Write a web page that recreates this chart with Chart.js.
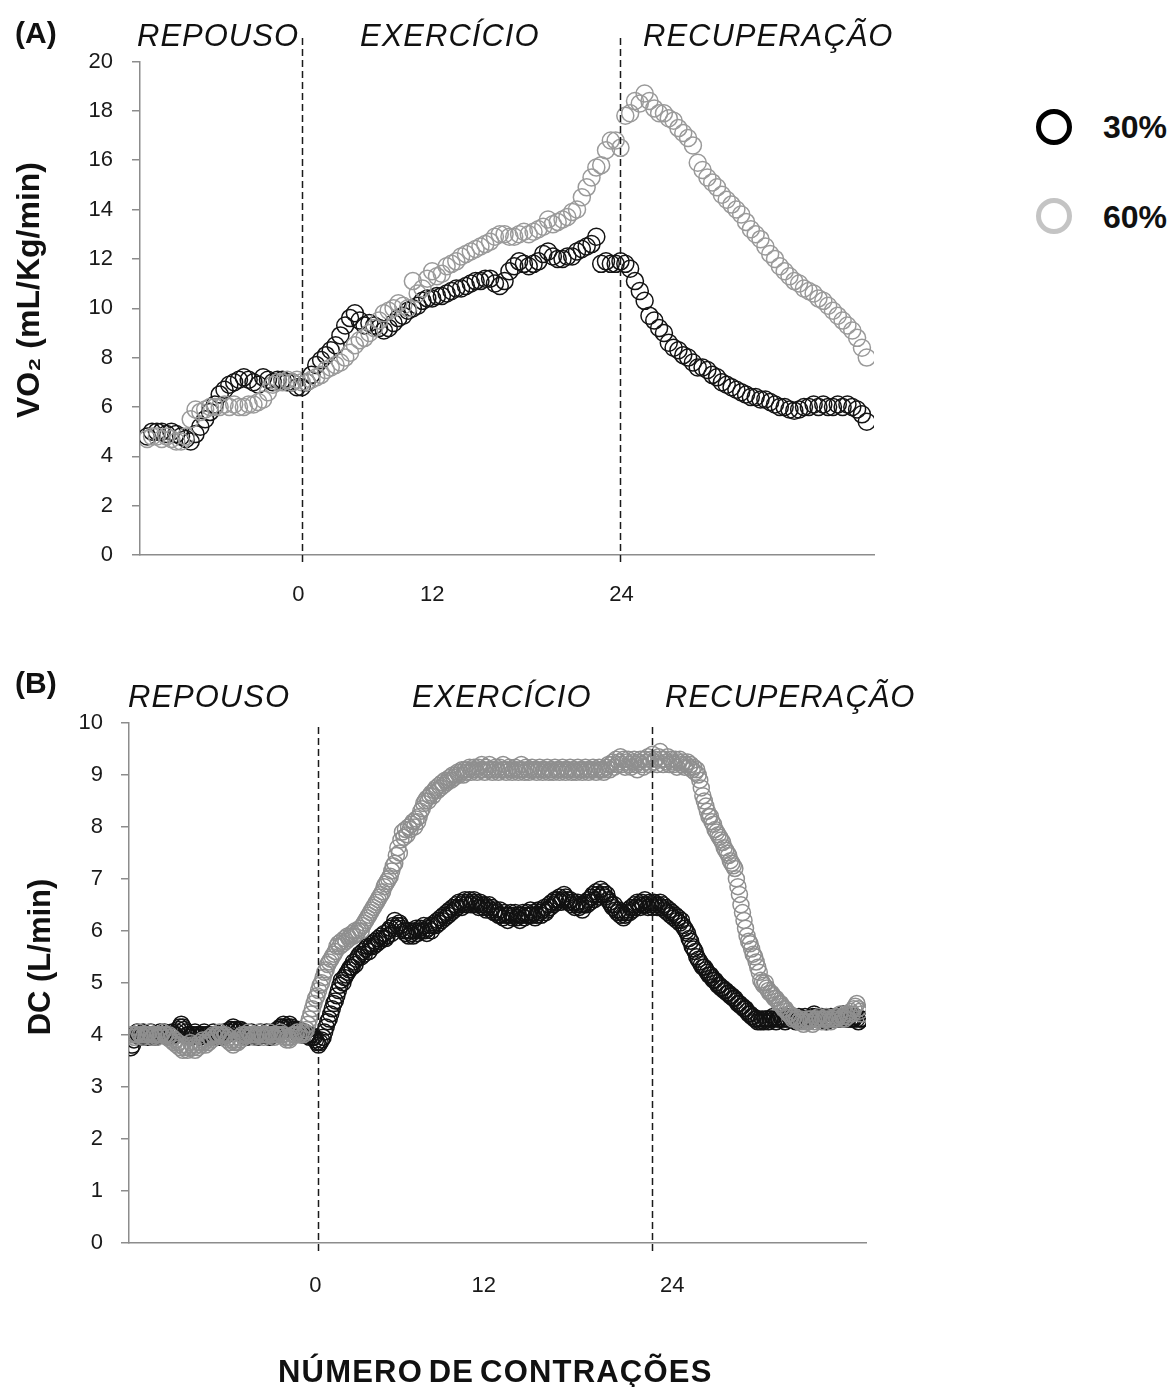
<!DOCTYPE html>
<html lang="pt">
<head>
<meta charset="utf-8">
<title>VO2 e DC</title>
<script src="https://cdn.jsdelivr.net/npm/chart.js@4.4.1/dist/chart.umd.min.js"></script>
<style>
  html, body { margin:0; padding:0; background:#fff; }
  body { position:relative; width:1170px; height:1387px; overflow:hidden; font-family:'Liberation Sans', Arial, Helvetica, sans-serif; color:#111; }
  .box { position:absolute; left:0; width:900px; }
  #boxA { top:0; height:620px; }
  #boxB { top:650px; height:737px; }
  .t { position:absolute; white-space:nowrap; line-height:1; }
  .phase { font-style:italic; font-size:31px; letter-spacing:1px; }
  .panel { font-weight:bold; font-size:30px; }
  .legtxt { font-weight:bold; font-size:32px; }
  .ring { position:absolute; width:36px; height:36px; border-radius:50%; box-sizing:border-box; border:5px solid #000; }
  .xtitle { font-weight:bold; font-size:31px; letter-spacing:1.2px; word-spacing:-4px; }
</style>
</head>
<body>
<div id="boxA" class="box"><canvas id="chartA"></canvas></div>
<div id="boxB" class="box"><canvas id="chartB"></canvas></div>

<div class="t panel" style="left:15px;top:18px">(A)</div>
<div class="t phase" style="left:137px;top:20px">REPOUSO</div>
<div class="t phase" style="left:360px;top:20px">EXERCÍCIO</div>
<div class="t phase" style="left:643px;top:20px">RECUPERAÇÃO</div>

<div class="t panel" style="left:15px;top:668px">(B)</div>
<div class="t phase" style="left:128px;top:681px">REPOUSO</div>
<div class="t phase" style="left:412px;top:681px">EXERCÍCIO</div>
<div class="t phase" style="left:665px;top:681px">RECUPERAÇÃO</div>

<div class="ring" style="left:1036px;top:109px;border-color:#000"></div>
<div class="t legtxt" style="left:1103px;top:111px">30%</div>
<div class="ring" style="left:1036px;top:198px;border-color:#c4c4c4"></div>
<div class="t legtxt" style="left:1103px;top:201px">60%</div>

<div class="t xtitle" style="left:278px;top:1356px">NÚMERO DE CONTRAÇÕES</div>

<script>
// ---------------- data ----------------
const seriesNames = ['30%', '60%'];
const xTickLabels = ['0', '12', '24'];

// Panel A: VO2 (mL/Kg/min), one value per sample
const xTickPosA = [31.3, 59, 98.2];
const phaseLinesA = [32.1, 98];
const vo2_30 = [
  4.8,5.0,5.0,5.0,4.9,5.0,4.9,4.8,4.7,4.6,
  4.9,5.2,5.5,5.8,6.1,6.5,6.7,6.9,7.0,7.1,
  7.2,7.1,7.0,6.9,7.2,7.1,7.0,7.1,7.1,7.0,
  7.0,6.8,6.8,7.0,7.3,7.7,7.9,8.1,8.3,8.5,
  8.9,9.3,9.6,9.8,9.5,9.3,9.4,9.3,9.2,9.1,
  9.2,9.4,9.6,9.7,9.9,10.0,10.1,10.3,10.4,10.4,
  10.5,10.5,10.6,10.7,10.8,10.8,10.9,11.0,11.1,11.1,
  11.2,11.2,11.0,10.9,11.1,11.5,11.7,11.9,11.8,11.7,
  11.8,11.9,12.2,12.3,12.1,12.0,12.0,12.1,12.1,12.3,
  12.4,12.5,12.6,12.9,11.8,11.9,11.8,11.8,11.9,11.8,
  11.6,11.1,10.7,10.3,9.7,9.5,9.2,9.0,8.6,8.4,
  8.3,8.1,8.0,7.8,7.6,7.6,7.5,7.3,7.2,7.0,
  6.9,6.8,6.7,6.6,6.5,6.4,6.4,6.3,6.3,6.2,
  6.1,6.0,6.0,5.9,5.85,5.9,6.0,6.0,6.1,6.0,
  6.1,6.0,6.0,6.1,6.0,6.1,6.0,5.9,5.7,5.4
];
const vo2_60 = [
  4.7,4.8,4.8,4.7,4.8,4.7,4.6,4.6,4.8,5.5,
  5.9,5.8,5.9,6.0,6.0,6.0,6.1,6.0,6.1,6.0,
  6.0,6.1,6.1,6.2,6.3,6.6,6.9,7.0,7.0,7.1,
  7.0,7.1,7.0,7.0,7.1,7.2,7.3,7.5,7.6,7.7,
  7.8,8.0,8.2,8.5,8.7,8.8,9.0,9.2,9.5,9.8,
  9.9,10.0,10.2,10.1,10.0,11.1,10.6,10.8,11.2,11.5,
  11.3,11.4,11.7,11.8,11.9,12.1,12.2,12.3,12.4,12.5,
  12.6,12.7,12.9,13.0,13.0,12.9,12.9,13.0,13.1,13.0,
  13.1,13.2,13.3,13.6,13.4,13.5,13.6,13.7,13.9,14.0,
  14.5,14.9,15.3,15.7,15.8,16.4,16.8,16.8,16.5,17.8,
  17.9,18.4,18.3,18.7,18.4,18.1,17.9,17.9,17.7,17.6,
  17.3,17.1,16.9,16.6,15.9,15.6,15.3,15.1,14.9,14.6,
  14.4,14.2,14.0,13.8,13.5,13.2,13.0,12.8,12.5,12.2,
  12.0,11.7,11.5,11.3,11.1,11.0,10.8,10.7,10.6,10.4,
  10.3,10.1,9.9,9.7,9.5,9.3,9.1,8.8,8.4,8.0
];

// Panel B: DC (L/min), one value per sample
const xTickPosB = [120.9, 231.3, 355.0];
const phaseLinesB = [122.6, 341.6];
const dc_30 = [
  3.75,3.8,3.9,4.0,4.05,4.0,3.95,4.0,4.05,4.0, 4.0,3.95,4.0,4.05,4.0,4.0,3.95,4.0,4.0,4.05,
  4.0,4.0,4.05,4.0,3.95,4.0,4.0,4.05,4.0,4.0, 4.05,4.1,4.15,4.2,4.15,4.1,4.05,4.0,4.0,3.95,
  4.0,4.0,4.05,4.0,4.0,3.95,4.0,4.0,4.05,4.0, 4.0,4.0,3.95,4.0,4.05,4.0,4.0,4.0,3.95,4.0,
  4.0,4.05,4.0,4.0,4.05,4.1,4.1,4.15,4.1,4.1, 4.05,4.1,4.1,4.05,4.0,4.0,3.95,4.0,4.0,4.05,
  4.0,4.0,4.0,3.95,4.0,4.05,4.0,4.0,4.0,4.05, 4.0,3.95,4.0,4.0,4.05,4.05,4.1,4.1,4.15,4.15,
  4.2,4.15,4.1,4.15,4.2,4.15,4.1,4.1,4.05,4.1, 4.1,4.05,4.0,4.0,4.05,4.0,4.0,3.95,4.0,3.95,
  3.95,3.9,3.85,3.8,3.85,3.9,3.95,4.05,4.15,4.25, 4.3,4.4,4.5,4.6,4.65,4.75,4.85,4.95,5.05,5.0,
  5.1,5.15,5.2,5.25,5.3,5.3,5.4,5.35,5.45,5.5, 5.55,5.5,5.6,5.55,5.65,5.7,5.6,5.7,5.75,5.7,
  5.8,5.75,5.85,5.8,5.9,5.85,5.95,5.85,5.9,6.0, 6.05,5.95,6.1,6.2,6.05,6.1,6.15,6.1,6.05,6.0,
  5.95,6.0,5.9,6.0,5.95,5.9,6.0,6.05,5.95,6.0, 6.05,6.0,6.1,6.0,5.95,6.05,6.1,6.0,6.1,6.15,
  6.1,6.2,6.15,6.25,6.2,6.3,6.25,6.35,6.3,6.4, 6.35,6.45,6.4,6.5,6.45,6.55,6.5,6.45,6.55,6.6,
  6.5,6.55,6.6,6.5,6.55,6.6,6.55,6.5,6.45,6.55, 6.5,6.45,6.5,6.4,6.45,6.5,6.4,6.45,6.35,6.4,
  6.35,6.3,6.4,6.3,6.25,6.35,6.3,6.2,6.3,6.35, 6.25,6.3,6.35,6.25,6.3,6.2,6.3,6.35,6.25,6.3,
  6.35,6.3,6.4,6.3,6.35,6.25,6.3,6.4,6.35,6.3, 6.4,6.45,6.35,6.4,6.5,6.45,6.55,6.5,6.6,6.55,
  6.6,6.65,6.55,6.6,6.7,6.65,6.6,6.55,6.6,6.5, 6.55,6.45,6.5,6.55,6.45,6.5,6.4,6.5,6.55,6.5,
  6.6,6.55,6.65,6.7,6.6,6.75,6.7,6.65,6.8,6.7, 6.75,6.65,6.7,6.6,6.55,6.5,6.45,6.5,6.4,6.35,
  6.4,6.3,6.35,6.25,6.3,6.35,6.4,6.35,6.45,6.4, 6.5,6.45,6.55,6.5,6.45,6.55,6.5,6.6,6.5,6.45,
  6.55,6.5,6.45,6.55,6.5,6.45,6.5,6.55,6.45,6.5, 6.4,6.45,6.35,6.4,6.3,6.35,6.25,6.3,6.2,6.25,
  6.15,6.2,6.1,6.05,6.0,5.95,5.85,5.8,5.7,5.65, 5.6,5.5,5.45,5.4,5.35,5.3,5.3,5.25,5.2,5.15,
  5.15,5.1,5.05,5.05,5.0,4.95,4.95,4.9,4.9,4.85, 4.85,4.8,4.8,4.75,4.75,4.7,4.7,4.65,4.6,4.6,
  4.55,4.55,4.5,4.5,4.45,4.4,4.4,4.35,4.35,4.3, 4.3,4.25,4.3,4.25,4.3,4.25,4.3,4.3,4.25,4.3,
  4.3,4.35,4.3,4.25,4.3,4.3,4.35,4.3,4.3,4.25, 4.3,4.3,4.35,4.3,4.3,4.3,4.25,4.3,4.35,4.3,
  4.3,4.3,4.35,4.3,4.25,4.3,4.3,4.35,4.4,4.35, 4.3,4.3,4.3,4.35,4.3,4.3,4.25,4.3,4.3,4.35,
  4.3,4.3,4.35,4.3,4.3,4.3,4.35,4.4,4.35,4.3, 4.3,4.35,4.3,4.3,4.3,4.35,4.3,4.25,4.3,4.3
];
const dc_60 = [
  4.0,4.0,3.95,4.0,4.0,4.05,4.0,4.0,3.95,4.0, 4.0,4.0,4.05,4.0,3.95,4.0,4.0,3.95,4.0,4.0,
  4.0,4.05,4.0,4.0,3.95,4.0,3.9,3.95,3.85,3.9, 3.8,3.85,3.75,3.8,3.7,3.75,3.8,3.7,3.75,3.85,
  3.8,3.75,3.7,3.8,3.75,3.85,3.8,3.9,3.85,3.8, 3.9,3.85,3.95,3.9,4.0,3.95,4.0,4.0,4.05,4.0,
  4.0,3.95,4.0,3.9,3.95,3.85,3.9,3.8,3.85,3.9, 3.85,3.95,3.9,4.0,3.95,4.0,4.0,4.05,4.0,4.0,
  4.0,3.95,4.0,4.0,4.05,4.0,4.0,3.95,4.0,4.0, 4.0,4.05,4.0,4.0,3.95,4.0,4.0,4.0,4.05,4.0,
  4.0,3.95,3.9,3.95,3.9,3.95,4.0,4.0,4.0,4.05, 4.0,4.0,4.05,4.0,4.05,4.1,4.2,4.3,4.4,4.5,
  4.6,4.7,4.75,4.85,4.95,5.0,5.1,5.2,5.25,5.35, 5.4,5.45,5.5,5.55,5.6,5.7,5.75,5.7,5.8,5.75,
  5.85,5.8,5.9,5.85,5.9,5.95,5.9,6.0,5.95,6.0, 6.05,6.0,6.1,6.15,6.2,6.25,6.3,6.35,6.4,6.45,
  6.5,6.55,6.6,6.65,6.7,6.75,6.85,6.9,6.95,7.0, 7.05,7.15,7.25,7.3,7.45,7.6,7.5,7.75,7.9,7.8,
  7.95,7.85,8.0,7.95,8.05,8.1,8.0,8.15,8.1,8.2, 8.3,8.35,8.45,8.5,8.55,8.5,8.6,8.65,8.6,8.7,
  8.75,8.7,8.8,8.75,8.85,8.8,8.9,8.85,8.9,8.95, 8.9,9.0,8.95,9.0,9.05,9.0,9.05,9.1,9.0,9.1,
  9.05,9.1,9.15,9.05,9.1,9.15,9.1,9.05,9.15,9.1, 9.2,9.1,9.05,9.15,9.1,9.2,9.1,9.05,9.1,9.15,
  9.1,9.05,9.15,9.1,9.2,9.1,9.05,9.1,9.15,9.1, 9.05,9.1,9.15,9.1,9.05,9.1,9.2,9.1,9.05,9.15,
  9.1,9.05,9.1,9.15,9.1,9.1,9.05,9.1,9.15,9.1, 9.05,9.1,9.1,9.15,9.05,9.1,9.1,9.05,9.15,9.1,
  9.1,9.05,9.1,9.15,9.1,9.05,9.1,9.1,9.15,9.05, 9.1,9.1,9.05,9.15,9.1,9.1,9.05,9.1,9.15,9.1,
  9.05,9.1,9.1,9.15,9.1,9.05,9.1,9.15,9.1,9.1, 9.05,9.1,9.15,9.2,9.1,9.2,9.25,9.15,9.3,9.2,
  9.25,9.35,9.2,9.3,9.15,9.25,9.3,9.2,9.15,9.25, 9.3,9.2,9.1,9.25,9.3,9.2,9.15,9.3,9.25,9.35,
  9.2,9.3,9.4,9.25,9.3,9.2,9.35,9.45,9.3,9.2, 9.3,9.25,9.35,9.2,9.3,9.25,9.2,9.3,9.15,9.25,
  9.3,9.2,9.25,9.15,9.2,9.25,9.15,9.2,9.1,9.15, 9.05,9.1,9.0,8.9,8.75,8.6,8.5,8.4,8.3,8.2,
  8.2,8.1,8.05,7.95,7.9,7.85,7.8,7.75,7.7,7.6, 7.55,7.5,7.45,7.35,7.3,7.25,7.2,7.0,6.85,6.7,
  6.5,6.35,6.2,6.05,5.9,5.8,5.75,5.65,5.55,5.5, 5.4,5.3,5.2,5.05,5.0,4.95,5.0,4.9,4.85,4.8,
  4.8,4.75,4.7,4.7,4.65,4.6,4.6,4.55,4.5,4.5, 4.45,4.4,4.4,4.35,4.3,4.35,4.3,4.3,4.25,4.3,
  4.25,4.2,4.25,4.3,4.25,4.3,4.3,4.2,4.25,4.3, 4.3,4.35,4.3,4.25,4.3,4.3,4.35,4.3,4.3,4.25,
  4.3,4.3,4.35,4.3,4.35,4.4,4.3,4.35,4.3,4.4, 4.35,4.4,4.45,4.4,4.5,4.55,4.6,4.5,4.45,4.4
];

// ---------------- drawing ----------------
const toPoints = arr => arr.map((v, i) => ({ x: i, y: v }));
const tickFont = { family: "'Liberation Sans', Arial, sans-serif", size: 22 };
const axisGray = '#8c8c8c';

const overlay = {
  id: 'overlay',
  afterDatasetsDraw(chart, args, o) {
    const ctx = chart.ctx, xs = chart.scales.x;
    ctx.save();
    ctx.strokeStyle = '#1a1a1a';
    ctx.lineWidth = 1.5;
    ctx.setLineDash([7, 4]);
    o.lines.forEach(v => {
      const px = Math.round(xs.getPixelForValue(v)) + 0.5;
      ctx.beginPath();
      ctx.moveTo(px, o.top);
      ctx.lineTo(px, o.bottom);
      ctx.stroke();
    });
    ctx.restore();
  },
  afterDraw(chart, args, o) {
    const ctx = chart.ctx;
    ctx.save();
    ctx.translate(o.titleX, o.titleY);
    ctx.rotate(-Math.PI / 2);
    ctx.font = o.titleFont;
    ctx.fillStyle = '#111';
    ctx.textAlign = 'center';
    ctx.textBaseline = 'middle';
    ctx.fillText(o.title, 0, 0);
    ctx.restore();
  }
};

function makeChart(id, d30, d60, cfg) {
  return new Chart(document.getElementById(id), {
    type: 'scatter',
    data: {
      datasets: [
        { label: seriesNames[0], data: toPoints(d30), borderColor: cfg.c30, backgroundColor: 'rgba(0,0,0,0)',
          pointRadius: cfg.r, pointHoverRadius: cfg.r, pointBorderWidth: cfg.bw, order: 2 },
        { label: seriesNames[1], data: toPoints(d60), borderColor: cfg.c60, backgroundColor: 'rgba(0,0,0,0)',
          pointRadius: cfg.r, pointHoverRadius: cfg.r, pointBorderWidth: cfg.bw, order: 1 }
      ]
    },
    options: {
      responsive: true,
      maintainAspectRatio: false,
      animation: false,
      layout: { padding: cfg.padding },
      plugins: {
        legend: { display: false },
        tooltip: { enabled: false },
        overlay: cfg.overlay
      },
      scales: {
        x: {
          type: 'linear', min: cfg.xmin, max: cfg.xmax,
          grid: { display: false, drawTicks: false },
          border: { display: true, color: axisGray, width: 1.5 },
          afterBuildTicks: s => { s.ticks = cfg.ticks.map(v => ({ value: v })); },
          ticks: { autoSkip: false, maxRotation: 0, padding: cfg.xpad, color: '#1a1a1a', font: tickFont,
                   callback: (v, i) => xTickLabels[i] },
          afterFit: s => { s.height = cfg.xh; }
        },
        y: {
          min: 0, max: cfg.ymax,
          grid: { drawOnChartArea: false, drawTicks: true, tickLength: 8, color: axisGray, lineWidth: 1.5 },
          border: { display: true, color: axisGray, width: 1.5 },
          ticks: { stepSize: cfg.step, padding: cfg.ypad, color: '#1a1a1a', font: tickFont },
          afterFit: s => { s.width = cfg.yw; }
        }
      }
    },
    plugins: [overlay]
  });
}

makeChart('chartA', vo2_30, vo2_60, {
  c30: '#141414', c60: '#9a9a9a', r: 8.5, bw: 1.5,
  padding: { left: 0, top: 61.5, right: 26, bottom: 0 },
  xmin: -1.5, xmax: 150.5, ticks: xTickPosA, xpad: 27, xh: 65,
  ymax: 20, step: 2, ypad: 19, yw: 140,
  overlay: { lines: phaseLinesA, top: 38, bottom: 562,
             title: 'VO₂ (mL/Kg/min)', titleX: 30, titleY: 290,
             titleFont: "bold 32px 'Liberation Sans', Arial, sans-serif" }
});

makeChart('chartB', dc_30, dc_60, {
  c30: '#111111', c60: '#8f8f8f', r: 8, bw: 1.5,
  padding: { left: 0, top: 73, right: 34, bottom: 0 },
  xmin: -1.3, xmax: 482, ticks: xTickPosB, xpad: 30, xh: 144.5,
  ymax: 10, step: 1, ypad: 18, yw: 129,
  overlay: { lines: phaseLinesB, top: 77, bottom: 601,
             title: 'DC (L/min)', titleX: 41.5, titleY: 307,
             titleFont: "bold 31px 'Liberation Sans', Arial, sans-serif" }
});
</script>
</body>
</html>
